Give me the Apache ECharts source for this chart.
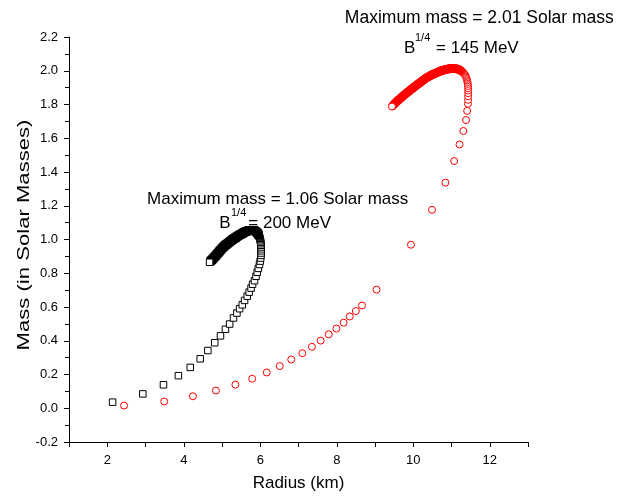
<!DOCTYPE html>
<html>
<head>
<meta charset="utf-8">
<script src="https://cdn.jsdelivr.net/npm/echarts@6/dist/echarts.min.js"></script>
<style>
html,body{margin:0;padding:0;background:#fff;}
#chart{width:630px;height:497px;}
</style>
</head>
<body>
<div id="chart"></div>
<script>
// B^1/4 = 200 MeV (black squares)
var blackRadius = [2.14,2.93,3.47,3.86,4.17,4.43,4.63,4.81,4.96,5.09,5.20,5.30,5.39,5.46,5.53,5.59,5.66,5.71,5.76,5.80,5.85,5.89,5.92,5.95,
  5.98,6.00,6.012,6.019,6.023,6.025,6.025,6.023,6.020,6.016,6.011,6.005,5.998,5.990,5.981,5.971,5.960,5.948,5.935,5.921,5.906,5.890,5.873,5.855,5.836,5.817,5.797,5.777,
  5.76,5.74,5.72,5.70,5.68,5.66,5.64,5.62,5.60,5.58,5.56,5.54,5.52,5.50,5.48,5.46,5.44,5.42,5.40,5.38,5.36,5.34,5.32,5.30,
  5.28,5.26,5.24,5.22,5.20,5.18,5.16,5.14,5.12,5.10,5.08,5.06,5.04,5.02,5.00,4.98,4.96,4.94,4.92,4.90,
  4.88,4.86,4.84,4.82,4.80,4.78,4.76,4.74,4.72,4.70,4.675];
var blackMass = [0.036,0.085,0.139,0.193,0.242,0.293,0.342,0.388,0.429,0.468,0.499,0.535,0.564,0.590,0.613,0.639,0.664,0.688,0.712,0.735,0.756,0.782,0.806,0.829,
  0.852,0.872,0.890,0.906,0.920,0.933,0.945,0.956,0.966,0.975,0.984,0.992,1.000,1.007,1.014,1.020,1.026,1.031,1.036,1.040,1.044,1.047,1.050,1.052,1.054,1.055,1.056,1.056,
  1.055,1.054,1.054,1.053,1.052,1.050,1.049,1.047,1.045,1.042,1.040,1.037,1.035,1.032,1.029,1.027,1.024,1.021,1.018,1.015,1.012,1.009,1.007,1.004,
  1.000,0.997,0.993,0.990,0.986,0.983,0.979,0.976,0.972,0.969,0.965,0.961,0.957,0.952,0.947,0.942,0.937,0.932,0.926,0.921,
  0.916,0.911,0.905,0.900,0.895,0.890,0.885,0.880,0.876,0.871,0.865];

// B^1/4 = 145 MeV (red circles)
var redRadius = [2.44,3.49,4.24,4.84,5.35,5.79,6.17,6.51,6.81,7.10,7.35,7.58,7.79,7.99,8.18,8.34,8.50,8.66,9.04,9.94,10.49,10.84,11.07,11.21,11.31,11.38,11.41,
  11.430,11.434,11.436,11.437,11.436,11.434,11.430,11.425,11.418,11.409,11.398,11.385,11.370,11.353,11.334,11.313,11.290,11.266,11.240,11.213,11.185,11.156,11.126,11.096,11.065,11.040,
  11.02,11.00,10.98,10.96,10.94,10.92,10.90,10.88,10.86,10.84,10.82,10.80,10.78,10.76,10.74,10.72,10.70,10.68,10.66,10.64,
  10.62,10.60,10.58,10.56,10.54,10.52,10.50,10.48,10.46,10.44,10.42,10.40,10.38,10.36,10.34,10.32,10.30,10.28,10.26,10.24,
  10.22,10.20,10.18,10.16,10.14,10.12,10.10,10.08,10.06,10.04,10.02,10.00,9.98,9.96,9.94,9.92,9.90,9.88,9.86,9.84,
  9.82,9.80,9.78,9.76,9.74,9.72,9.70,9.68,9.66,9.64,9.62,9.60,9.58,9.56,9.54,9.52,9.50,9.48,9.46,9.443];
var redMass = [0.016,0.040,0.071,0.105,0.140,0.175,0.212,0.250,0.289,0.326,0.364,0.401,0.438,0.472,0.507,0.544,0.576,0.609,0.703,0.969,1.176,1.337,1.465,1.563,1.643,1.708,1.762,
  1.804,1.828,1.849,1.867,1.883,1.897,1.910,1.922,1.933,1.943,1.952,1.960,1.968,1.975,1.981,1.987,1.992,1.997,2.001,2.005,2.008,2.010,2.012,2.013,2.013,2.013,
  2.013,2.013,2.012,2.012,2.011,2.011,2.010,2.009,2.008,2.007,2.006,2.004,2.003,2.002,2.000,1.999,1.997,1.995,1.993,1.991,
  1.989,1.987,1.985,1.983,1.981,1.979,1.977,1.975,1.972,1.970,1.967,1.965,1.962,1.960,1.957,1.954,1.951,1.947,1.944,1.941,
  1.937,1.934,1.930,1.927,1.923,1.920,1.917,1.913,1.910,1.906,1.903,1.899,1.896,1.892,1.889,1.885,1.881,1.877,1.874,1.870,
  1.867,1.863,1.859,1.855,1.851,1.848,1.844,1.840,1.836,1.832,1.828,1.824,1.820,1.815,1.811,1.806,1.802,1.797,1.792,1.788];

var xTickLabels = [2, 4, 6, 8, 10, 12];
var yTickLabels = ['-0.2','0.0','0.2','0.4','0.6','0.8','1.0','1.2','1.4','1.6','1.8','2.0','2.2'];

// style: where each curve's markers become so closely packed that they merge into a band
var blackDenseFrom = 40;
var redDenseFrom = 45;

function makeData(xs, ys, denseFrom, color) {
  return xs.map(function (v, i) {
    var item = {value: [v, ys[i]]};
    if (i >= denseFrom && i < xs.length - 1) {
      item.itemStyle = {borderWidth: 1.8, borderColor: color, color: '#fff'};
    }
    return item;
  });
}

var FONT = '"Liberation Sans", Arial, Helvetica, sans-serif';
var chart = echarts.init(document.getElementById('chart'), null, {renderer: 'canvas'});

chart.setOption({
  animation: false,
  backgroundColor: '#fff',
  grid: {left: 69, right: 102, top: 37, bottom: 53},
  xAxis: {
    type: 'value', min: 1, max: 13, interval: 1,
    name: 'Radius (km)', nameLocation: 'middle', nameGap: 33,
    nameTextStyle: {fontFamily: FONT, fontSize: 17, color: '#000'},
    axisLine: {onZero: false, lineStyle: {color: '#000', width: 1}},
    axisTick: {show: true, inside: false, length: 5, lineStyle: {color: '#000'}},
    axisLabel: {
      margin: 12, fontFamily: FONT, fontSize: 13, color: '#000',
      formatter: function (v) { var r = Math.round(v); return xTickLabels.indexOf(r) >= 0 ? String(r) : ''; }
    },
    splitLine: {show: false}
  },
  yAxis: {
    type: 'value', min: -0.2, max: 2.2, interval: 0.2,
    axisLine: {onZero: false, lineStyle: {color: '#000', width: 1}},
    axisTick: {show: true, inside: false, length: 5, lineStyle: {color: '#000'}},
    minorTick: {show: true, splitNumber: 2, length: 4, lineStyle: {color: '#000'}},
    axisLabel: {
      margin: 11, fontFamily: FONT, fontSize: 13, color: '#000',
      formatter: function (v) { var s = (Math.round(v * 10) / 10).toFixed(1); if (s === '-0.0') s = '0.0'; return yTickLabels.indexOf(s) >= 0 ? s : ''; }
    },
    splitLine: {show: false}
  },
  series: [
    {
      name: 'B1/4 = 200 MeV', type: 'scatter', symbol: 'rect', symbolSize: 6.5,
      data: makeData(blackRadius, blackMass, blackDenseFrom, '#000'),
      itemStyle: {color: '#fff', borderColor: '#000', borderWidth: 1, opacity: 1},
      emphasis: {disabled: true}
    },
    {
      name: 'B1/4 = 145 MeV', type: 'scatter', symbol: 'circle', symbolSize: 7,
      data: makeData(redRadius, redMass, redDenseFrom, '#ff0000'),
      itemStyle: {color: '#fff', borderColor: '#ff0000', borderWidth: 1, opacity: 1},
      emphasis: {disabled: true}
    }
  ],
  graphic: [
    {type: 'text', x: 24, y: 235, rotation: Math.PI / 2, scaleX: 1.3,
     style: {text: 'Mass (in Solar Masses)', font: '17px ' + FONT, fill: '#000', align: 'center', verticalAlign: 'middle'}},
    // 200 MeV annotation
    {type: 'text', x: 277.7, y: 199.5,
     style: {text: 'Maximum mass = 1.06 Solar mass', font: '17px ' + FONT, fill: '#000', align: 'center', verticalAlign: 'middle'}},
    {type: 'text', x: 219.3, y: 223.2,
     style: {text: 'B', font: '17px ' + FONT, fill: '#000', align: 'left', verticalAlign: 'middle'}},
    {type: 'text', x: 231, y: 212.5,
     style: {text: '1/4', font: '11px ' + FONT, fill: '#000', align: 'left', verticalAlign: 'middle'}},
    {type: 'text', x: 248.3, y: 223.2,
     style: {text: '= 200 MeV', font: '17px ' + FONT, fill: '#000', align: 'left', verticalAlign: 'middle'}},
    // 145 MeV annotation
    {type: 'text', x: 479.3, y: 18,
     style: {text: 'Maximum mass = 2.01 Solar mass', font: '17.5px ' + FONT, fill: '#000', align: 'center', verticalAlign: 'middle'}},
    {type: 'text', x: 404, y: 48,
     style: {text: 'B', font: '17px ' + FONT, fill: '#000', align: 'left', verticalAlign: 'middle'}},
    {type: 'text', x: 415, y: 37.5,
     style: {text: '1/4', font: '11px ' + FONT, fill: '#000', align: 'left', verticalAlign: 'middle'}},
    {type: 'text', x: 436, y: 48,
     style: {text: '= 145 MeV', font: '17px ' + FONT, fill: '#000', align: 'left', verticalAlign: 'middle'}}
  ]
});
</script>
</body>
</html>
